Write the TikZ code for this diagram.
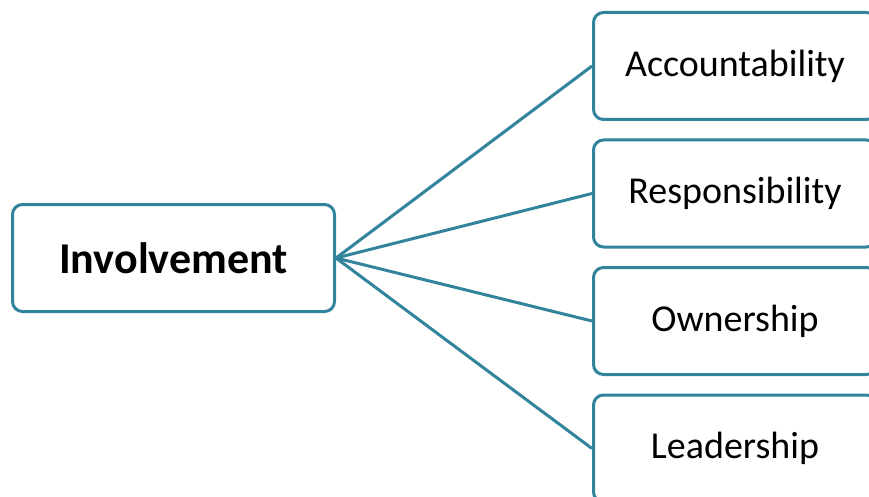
\documentclass[tikz,border=0pt]{standalone}
\usepackage{fontspec}
\setmainfont{Carlito}
\usetikzlibrary{positioning}
\definecolor{boxteal}{RGB}{49,132,155}

\begin{document}
\begin{tikzpicture}
  [x=1pt,y=-1pt,line width=3pt,
   every node/.style={draw=boxteal,fill=white,rectangle,rounded corners=10pt,
     inner sep=0pt,minimum height=107pt},
   leaf/.style={minimum width=283pt,font=\fontsize{38}{44}\selectfont}]
  \useasboundingbox (0,0) rectangle (869,497);
  \clip (0,0) rectangle (869,497);
  \node[minimum width=322pt,font=\fontsize{44}{50}\selectfont\bfseries] (inv) at (173.5,258) {Involvement};
  \node[leaf] (acc) at (735,66) {Accountability};
  \node[leaf] (res) at (735,193.5) {Responsibility};
  \node[leaf] (own) at (735,321) {Ownership};
  \node[leaf] (lead) at (735,448.5) {Leadership};

  \draw[boxteal] (inv.east) -- (acc.west);
  \draw[boxteal] (inv.east) -- (res.west);
  \draw[boxteal] (inv.east) -- (own.west);
  \draw[boxteal] (inv.east) -- (lead.west);
\end{tikzpicture}
\end{document}
